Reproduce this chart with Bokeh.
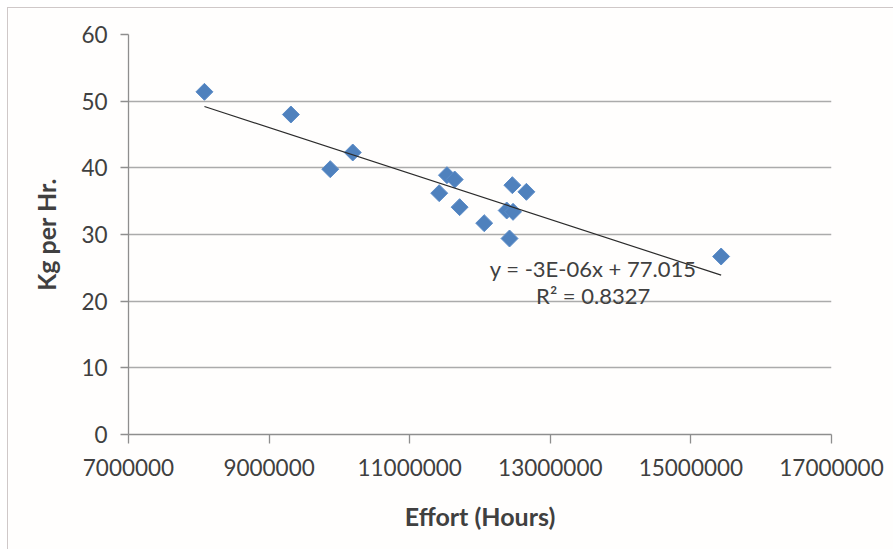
import numpy as np
from bokeh.plotting import figure
from bokeh.models import Range1d, FixedTicker, PrintfTickFormatter, Label, ColumnDataSource
from bokeh.embed import file_html
from bokeh.resources import INLINE

# ---- data ----
effort_hours = [8080000, 9310000, 9870000, 10190000, 11530000, 11640000, 11420000,
                11710000, 12060000, 12460000, 12660000, 12380000, 12470000, 12420000,
                15430000]
kg_per_hr = [51.4, 48.0, 39.8, 42.3, 38.9, 38.25, 36.2, 34.1, 31.7, 37.4, 36.4,
             33.6, 33.4, 29.4, 26.7]
x_ticks = [7000000, 9000000, 11000000, 13000000, 15000000, 17000000]
y_ticks = [0, 10, 20, 30, 40, 50, 60]
equation_text = "y = -3E-06x + 77.015"
r2_text = "R\u00b2 = 0.8327"

FONT = "Lato"
TXT = "#404040"

p = figure(width=886, height=542,
           x_range=Range1d(x_ticks[0], x_ticks[-1]),
           y_range=Range1d(y_ticks[0], y_ticks[-1]),
           output_backend="svg", toolbar_location=None,
           min_border_left=120, min_border_right=63,
           min_border_top=26, min_border_bottom=116,
           background_fill_color="#FFFEFD", border_fill_color="#FFFEFD",
           styles={"margin-left": "7px", "margin-top": "7px",
                   "border-left": "1px solid #CFC8C8", "border-top": "1px solid #CFC8C8"})
p.outline_line_color = None

# axes
p.xaxis.ticker = FixedTicker(ticks=x_ticks)
p.yaxis.ticker = FixedTicker(ticks=y_ticks)
p.xaxis.formatter = PrintfTickFormatter(format="%d")
p.yaxis.formatter = PrintfTickFormatter(format="%d")
for ax in (p.xaxis, p.yaxis):
    ax.axis_line_color = "#8E8E8E"
    ax.axis_line_width = 1.3
    ax.major_tick_line_color = "#8E8E8E"
    ax.major_tick_line_width = 1.3
    ax.major_tick_in = 0
    ax.minor_tick_line_color = None
    ax.major_label_text_font = FONT
    ax.major_label_text_font_size = "22.5px"
    ax.major_label_text_color = TXT
    ax.axis_label_text_font = FONT
    ax.axis_label_text_font_size = "25px"
    ax.axis_label_text_font_style = "bold"
    ax.axis_label_text_color = TXT
p.xaxis.major_tick_out = 9
p.yaxis.major_tick_out = 8
p.xaxis.major_label_standoff = 15
p.yaxis.major_label_standoff = 13
p.xaxis.axis_label = "Effort (Hours)"
p.yaxis.axis_label = "Kg per Hr."
p.xaxis.axis_label_standoff = 22
p.yaxis.axis_label_standoff = 17

p.xgrid.grid_line_color = None
p.ygrid.grid_line_color = "#ABABAB"
p.ygrid.grid_line_width = 1.3

# data points
src = ColumnDataSource(data=dict(x=effort_hours, y=kg_per_hr))
p.scatter("x", "y", source=src, marker="square", angle=np.pi / 4, size=12,
          fill_color="#4F81BD", line_color="#5B8CC8", line_width=1)

# linear trendline (least squares of the data)
slope, intercept = np.polyfit(np.array(effort_hours, dtype=float), np.array(kg_per_hr), 1)
tx = [min(effort_hours), max(effort_hours)]
ty = [slope * v + intercept for v in tx]
p.line(tx, ty, line_color="#2B2B2B", line_width=1.2)

# equation labels
p.add_layout(Label(x=13610000, y=24.9, text=equation_text, text_align="center",
                   text_baseline="alphabetic", text_font=FONT, text_font_size="22px",
                   text_color=TXT))
p.add_layout(Label(x=13610000, y=20.9, text=r2_text, text_align="center",
                   text_baseline="alphabetic", text_font=FONT, text_font_size="22px",
                   text_color=TXT))

open("out.html", "w").write(file_html(p, INLINE))
